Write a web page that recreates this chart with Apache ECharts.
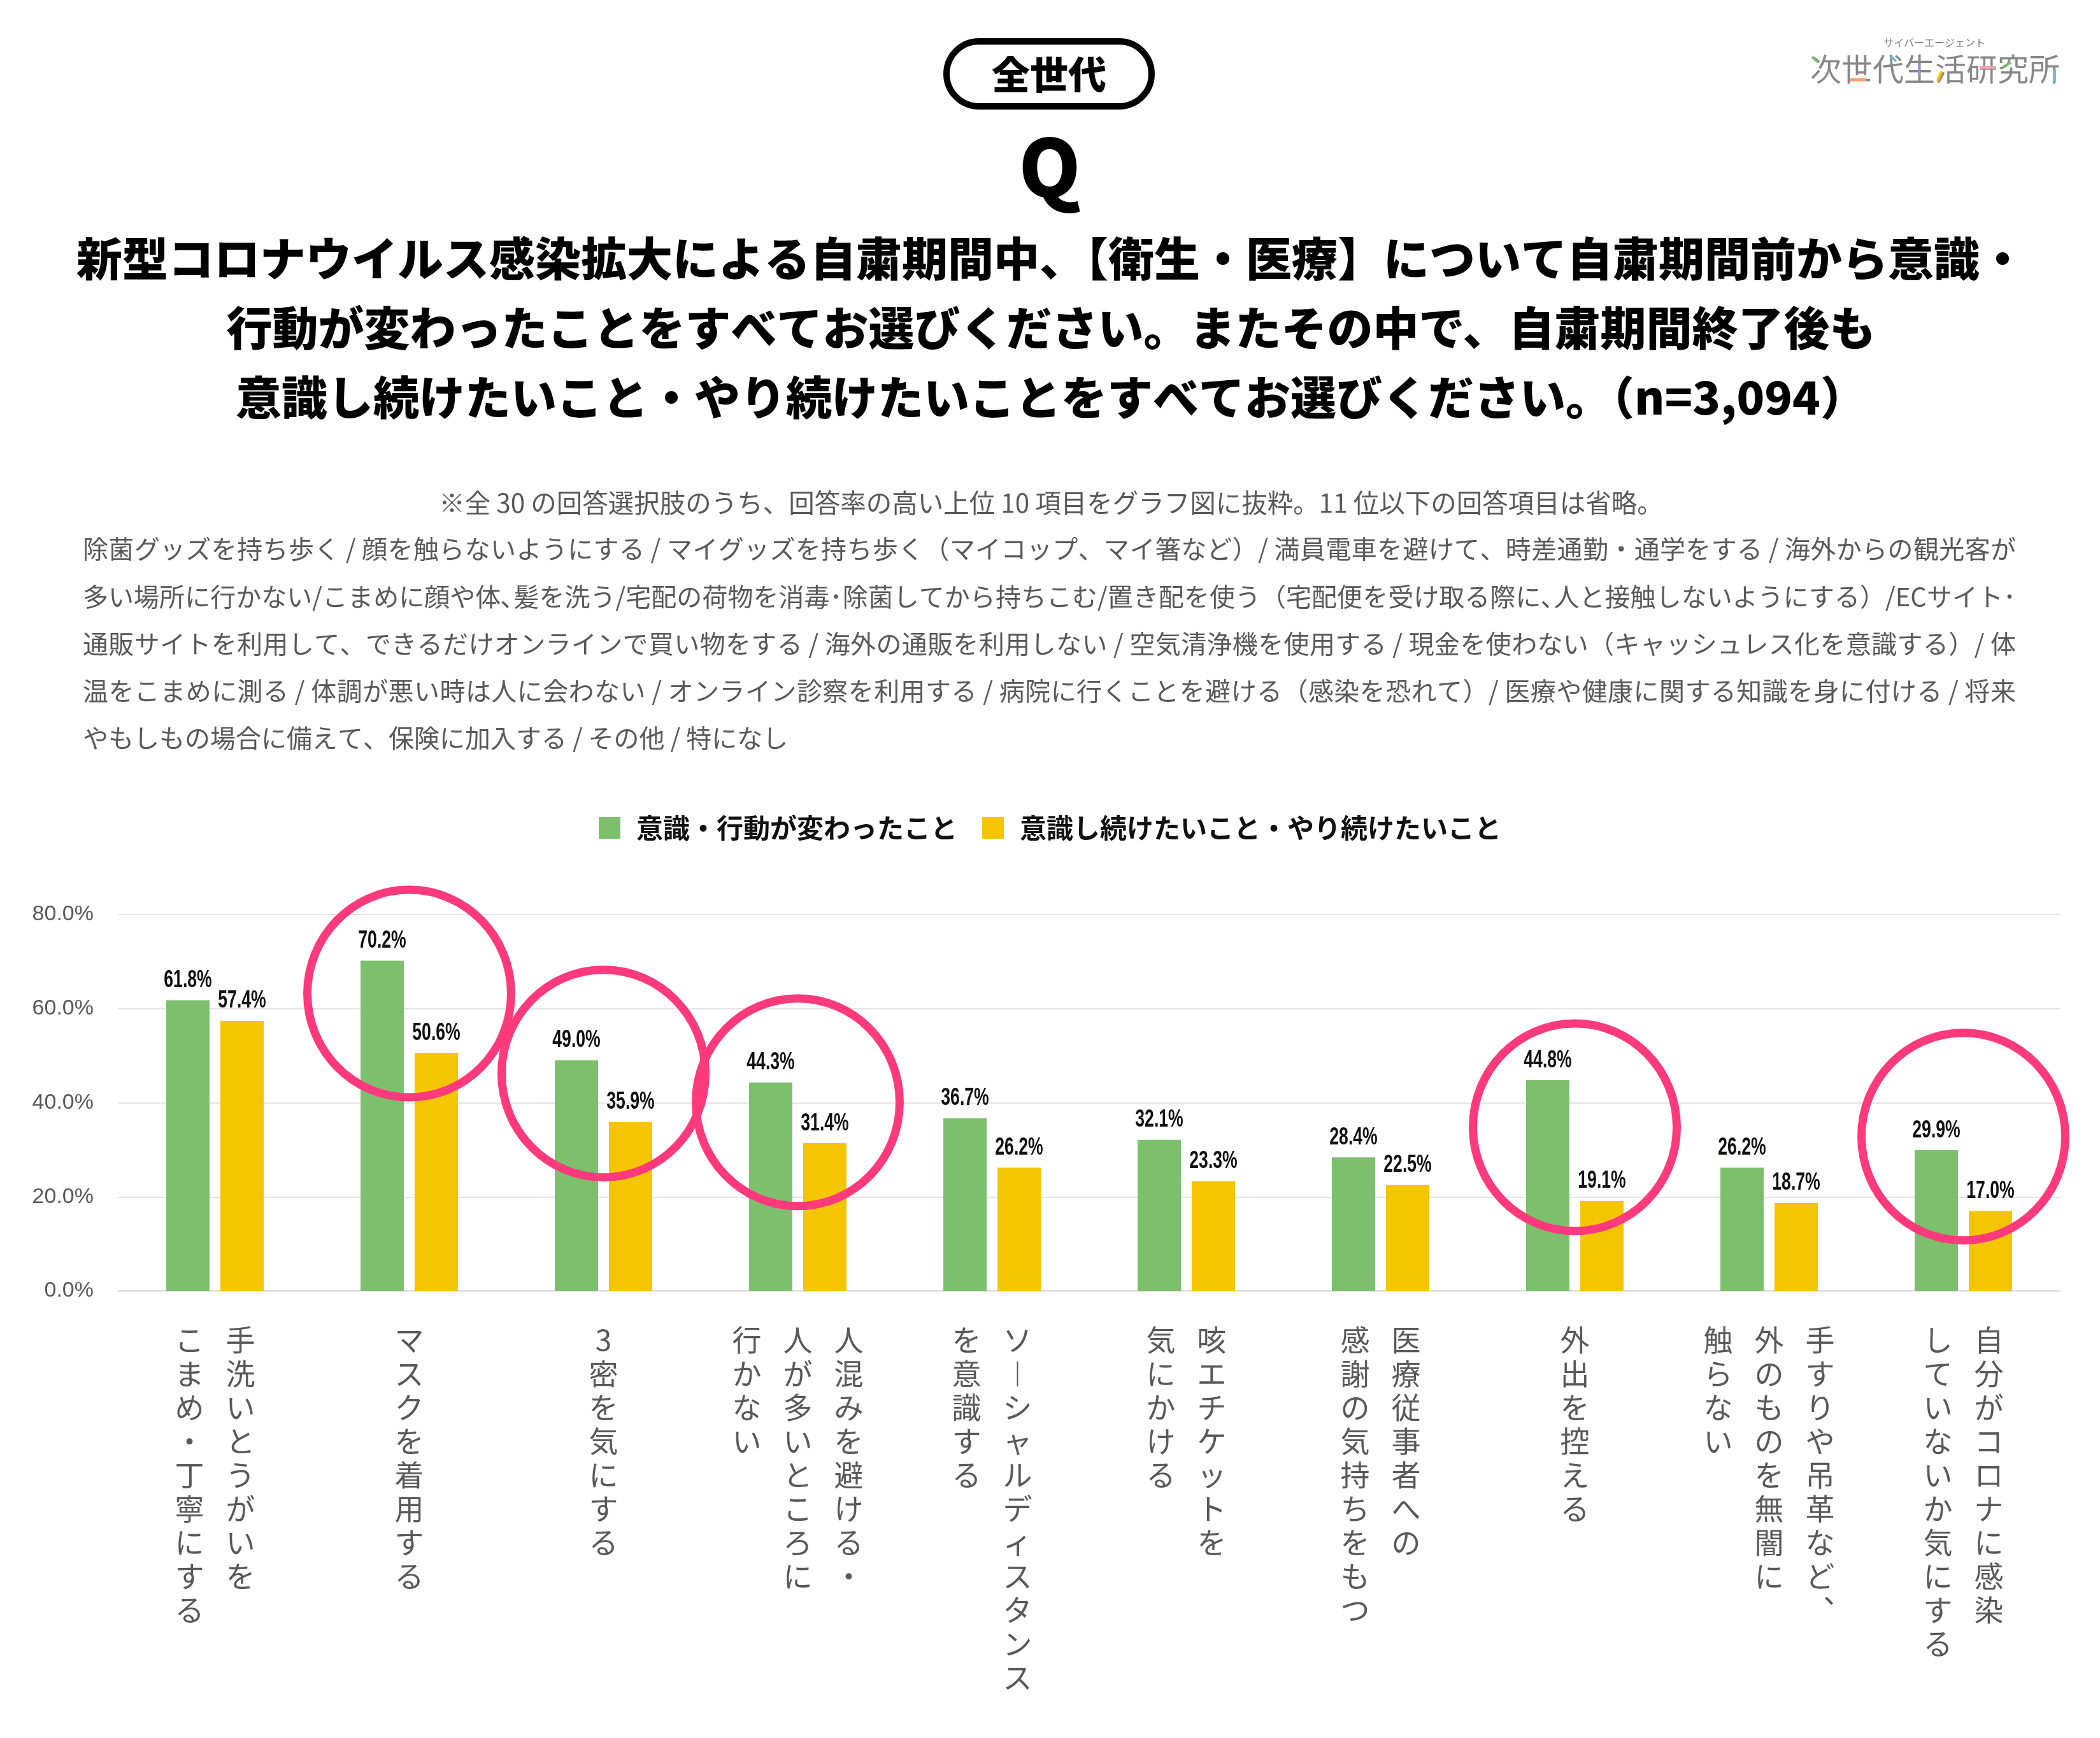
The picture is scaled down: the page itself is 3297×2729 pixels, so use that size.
<!DOCTYPE html>
<html><head><meta charset="utf-8">
<script src="https://cdn.jsdelivr.net/npm/echarts@6.0.0/dist/echarts.min.js"></script>
<style>html,body{margin:0;padding:0;background:#fff}#c{width:3297px;height:2729px}</style>
</head><body><div id="c"></div>
<script>
// ---- data ----
const categories = [
  '手洗いとうがいを\nこまめ・丁寧にする',
  'マスクを着用する',
  '3密を気にする',
  '人混みを避ける・\n人が多いところに\n行かない',
  'ソーシャルディスタンス\nを意識する',
  '咳エチケットを\n気にかける',
  '医療従事者への\n感謝の気持ちをもつ',
  '外出を控える',
  '手すりや吊革など、\n外のものを無闇に\n触らない',
  '自分がコロナに感染\nしていないか気にする'
];
const changedValues  = [61.8, 70.2, 49.0, 44.3, 36.7, 32.1, 28.4, 44.8, 26.2, 29.9];
const continueValues = [57.4, 50.6, 35.9, 31.4, 26.2, 23.3, 22.5, 19.1, 18.7, 17.0];
const seriesNames = ['意識・行動が変わったこと', '意識し続けたいこと・やり続けたいこと'];
const yTickValues = [0, 20, 40, 60, 80];
// highlighted categories (pink circles) and the value at each circle's centre
const highlightIndex  = [1, 2, 3, 7, 9];
const highlightCenter = [63.2, 46.2, 40.1, 34.8, 32.8];

const badgeText = '全世代';
const titleLines = [
  '新型コロナウイルス感染拡大による自粛期間中、【衛生・医療】について自粛期間前から意識・',
  '行動が変わったことをすべてお選びください。またその中で、自粛期間終了後も',
  '意識し続けたいこと・やり続けたいことをすべてお選びください。（n=3,094）'
];
const noteLine = '※全 30 の回答選択肢のうち、回答率の高い上位 10 項目をグラフ図に抜粋。11 位以下の回答項目は省略。';
const otherItemLines = [
  '除菌グッズを持ち歩く / 顔を触らないようにする / マイグッズを持ち歩く（マイコップ、マイ箸など）/ 満員電車を避けて、時差通勤・通学をする / 海外からの観光客が',
  '多い場所に行かない/こまめに顔や体､髪を洗う/宅配の荷物を消毒･除菌してから持ちこむ/置き配を使う（宅配便を受け取る際に､人と接触しないようにする）/ECサイト･',
  '通販サイトを利用して、できるだけオンラインで買い物をする / 海外の通販を利用しない / 空気清浄機を使用する / 現金を使わない（キャッシュレス化を意識する）/ 体',
  '温をこまめに測る / 体調が悪い時は人に会わない / オンライン診察を利用する / 病院に行くことを避ける（感染を恐れて）/ 医療や健康に関する知識を身に付ける / 将来',
  'やもしもの場合に備えて、保険に加入する / その他 / 特になし'
];
const logoSub = 'サイバーエージェント';
const logoMain = '次世代生活研究所';

// ---- render ----
const JP = "'Noto Sans CJK JP','Noto Sans',sans-serif";
const NUM = "'Liberation Sans','Noto Sans',sans-serif";
const GRAY = '#595959';

const vertMap = {'ー':'︱','、':'︑'};
function verticalLabel(name) {
  const cols = name.split('\n').map(s => Array.from(s));
  const n = Math.max(...cols.map(c => c.length));
  const ordered = cols.slice().reverse(); // first column on the right
  const lines = [];
  for (let i = 0; i < n; i++) {
    lines.push(ordered.map(c => {
      let ch = c[i] || '　';
      ch = vertMap[ch] || ch;
      return '{c|' + ch + '}';
    }).join(''));
  }
  return lines.join('\n');
}

const chart = echarts.init(document.getElementById('c'), null, {renderer: 'canvas'});
const mctx = document.createElement('canvas').getContext('2d');

const graphics = [];
graphics.push({type:'rect', shape:{x:1486, y:65, width:322, height:102, r:51},
  style:{fill:'#fff', stroke:'#000', lineWidth:10}, z:10});
graphics.push({type:'text', x:1647, y:117, style:{text:badgeText, fontFamily:JP, fontWeight:900, fontSize:60,
  fill:'#000', textAlign:'center', textVerticalAlign:'middle'}, z:11});
graphics.push({type:'text', x:1648, y:262, style:{text:'Q', fontFamily:JP, fontWeight:900, fontSize:124,
  fill:'#000', textAlign:'center', textVerticalAlign:'middle'}, z:11});
const titleY = [406, 515, 624];
titleLines.forEach((t, i) => graphics.push({type:'text', x:1650, y:titleY[i], style:{text:t, fontFamily:JP,
  fontWeight:900, fontSize:72, fill:'#000', textAlign:'center', textVerticalAlign:'middle'}}));
graphics.push({type:'text', x:1650, y:790, style:{text:noteLine, fontFamily:JP, fontSize:40.5, fill:GRAY,
  textAlign:'center', textVerticalAlign:'middle'}});

// justified paragraph (all lines but the last stretched to the full width)
const paraY = [862, 937, 1011, 1085, 1159];
const paraLeft = 130, paraRight = 3165, paraSize = 40;
mctx.font = paraSize + 'px ' + JP;
otherItemLines.forEach((t, li) => {
  const chars = Array.from(t);
  const widths = chars.map(c => mctx.measureText(c).width);
  const natural = widths.reduce((a, b) => a + b, 0);
  const last = li === otherItemLines.length - 1;
  const extra = last ? 0 : (paraRight - paraLeft - natural) / (chars.length - 1);
  let x = paraLeft;
  chars.forEach((c, i) => {
    if (c !== ' ') graphics.push({type:'text', x: x, y: paraY[li], silent: true,
      style:{text:c, fontFamily:JP, fontSize:paraSize, fill:GRAY, textAlign:'left', textVerticalAlign:'middle'}});
    x += widths[i] + extra;
  });
});

// logo
graphics.push({type:'text', x:3037, y:67, style:{text:logoSub, fontFamily:JP, fontSize:16, fill:'#7a7a7a',
  textAlign:'center', textVerticalAlign:'middle'}});
graphics.push({type:'text', x:3038, y:108, style:{text:logoMain, fontFamily:JP, fontSize:49, fill:'#888',
  textAlign:'center', textVerticalAlign:'middle'}});
const accents = [
  [[2845, 89], [2853, 97], '#7cc06e'], [[2905, 125], [2930, 125], '#f4a06a'],
  [[2969, 89], [2977, 96], '#6cc0e0'], [[3013, 100], [3013, 120], '#a98bd8'],
  [[3048, 112], [3042, 127], '#f4c500'], [[3108, 106], [3133, 106], '#f0a0aa'],
  [[3145, 105], [3157, 98], '#7cc06e'], [[3226, 109], [3226, 129], '#6cc0e0']
];
accents.forEach(a => graphics.push({type:'line', shape:{x1:a[0][0], y1:a[0][1], x2:a[1][0], y2:a[1][1]},
  style:{stroke:a[2], lineWidth:4}, z:12}));

const option = {
  animation: false,
  backgroundColor: '#fff',
  legend: {
    data: seriesNames, top: 1274, left: 'center', icon: 'rect', itemWidth: 34, itemHeight: 34, itemGap: 39,
    textStyle: {fontFamily: JP, fontSize: 42, fontWeight: 'bold', color: '#111', padding: [0, 0, 0, 20]}
  },
  grid: {left: 185, right: 62, top: 1436, bottom: 702, containLabel: false},
  xAxis: {
    type: 'category', data: categories,
    axisLine: {show: true, lineStyle: {color: '#dadada', width: 2}},
    axisTick: {show: false},
    axisLabel: {
      interval: 0, margin: 50, hideOverlap: false,
      formatter: verticalLabel,
      rich: {c: {fontFamily: JP, fontSize: 46, lineHeight: 53, width: 80, align: 'center', color: GRAY}}
    }
  },
  yAxis: {
    type: 'value', min: yTickValues[0], max: yTickValues[yTickValues.length - 1], interval: 20,
    axisLine: {show: false}, axisTick: {show: false},
    splitLine: {lineStyle: {color: '#e4e4e4', width: 2}},
    axisLabel: {margin: 38, fontFamily: NUM, fontSize: 34, color: GRAY,
      formatter: v => v.toFixed(1) + '%'}
  },
  series: [
    {name: seriesNames[0], type: 'bar', data: changedValues, barWidth: 68, barGap: '25%',
     itemStyle: {color: '#7cc06e'}},
    {name: seriesNames[1], type: 'bar', data: continueValues, barWidth: 68, barGap: '25%',
     itemStyle: {color: '#f4c500'}}
  ],
  graphic: {elements: graphics}
};
chart.setOption(option);

// value labels (condensed) placed on the library's own bar layout
const labelEls = [];
[changedValues, continueValues].forEach((vals, si) => {
  let data = null;
  try { data = chart.getModel().getSeriesByIndex(si).getData(); } catch (e) {}
  vals.forEach((v, i) => {
    let cx, top;
    const l = data && data.getItemLayout(i);
    if (l) { cx = l.x + l.width / 2; top = Math.min(l.y, l.y + l.height); }
    else {
      const p = chart.convertToPixel({xAxisIndex: 0, yAxisIndex: 0}, [i, v]);
      cx = p[0] + (si === 0 ? -42.5 : 42.5); top = p[1];
    }
    labelEls.push({type: 'text', x: cx, y: top - 12, scaleX: 0.7, z: 50,
      style: {text: v.toFixed(1) + '%', fontFamily: NUM, fontWeight: 'bold', fontSize: 38, fill: '#111',
        textAlign: 'center', textVerticalAlign: 'bottom'}});
  });
});

// pink highlight ellipses placed through the chart's own scales
const ellipses = highlightIndex.map((ci, k) => {
  const p = chart.convertToPixel({xAxisIndex: 0, yAxisIndex: 0}, [ci, highlightCenter[k]]);
  return {type: 'ellipse', shape: {cx: p[0], cy: p[1], rx: 160, ry: 163},
    style: {fill: null, stroke: '#ff3a7c', lineWidth: 13}, z: 100};
});
chart.setOption({graphic: {elements: graphics.concat(labelEls, ellipses)}});
</script></body></html>
